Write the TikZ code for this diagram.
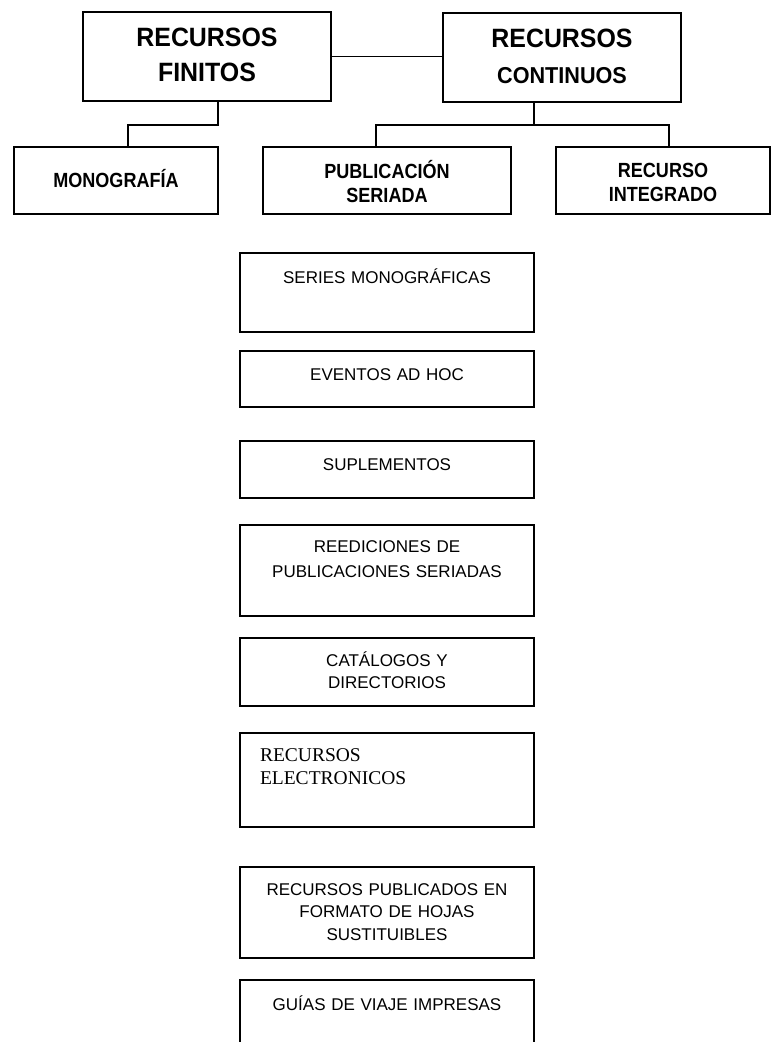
\documentclass[tikz,border=0pt]{standalone}
\usepackage{fontspec}
\setmainfont{Liberation Sans}
\newfontfamily\titlefont[FakeStretch=0.94]{Liberation Sans}
\newfontfamily\headfont[FakeStretch=0.88]{Liberation Sans}
\newfontfamily\notefont{Liberation Serif}
\usetikzlibrary{positioning}

\begin{document}
\begin{tikzpicture}[
    x=1pt, y=-1pt,
    box/.style={draw, line width=1.7pt, inner sep=0pt, outer sep=0pt, align=center},
    title/.style={box, font=\titlefont\bfseries\fontsize{26.5}{35}\selectfont},
    head/.style={box, text height=30pt, text depth=37pt, font=\headfont\bfseries\fontsize{20.5}{24.5}\selectfont},
    kind/.style={box, text width=294pt, font=\fontsize{17}{22.5}\selectfont},
    link/.style={line width=1.6pt},
]
\useasboundingbox (0,0) rectangle (771,1042);

% Top level: finite and continuing resources
\node[title, anchor=north west, text width=248pt, text height=34pt, text depth=55pt] (fin) at (83,12) {RECURSOS\\FINITOS};
\node[title, anchor=north west, text width=238pt, text height=34pt, text depth=55pt, font=\titlefont\bfseries\fontsize{26.5}{36}\selectfont] (con) at (443,13) {RECURSOS\\{\fontsize{23}{36}\selectfont CONTINUOS}};

% Second level
\node[head, anchor=north west, text width=204pt, text height=40pt, text depth=27pt] (mono) at (14,147) {MONOGRAFÍA};
\node[head, anchor=north west, text width=248pt, text height=31pt, text depth=36pt] (pub) at (263,147) {PUBLICACIÓN\\SERIADA};
\node[head, anchor=north west, text width=214pt] (int) at (556,147) {RECURSO\\INTEGRADO};

% Column of kinds of continuing resources
\node[kind, anchor=north west, text height=30pt, text depth=49pt] (ser) at (240,253) {SERIES MONOGRÁFICAS};
\node[kind, below=19pt of ser, text height=29pt, text depth=27pt] (eve) {EVENTOS AD HOC};
\node[kind, below=34pt of eve, text height=29pt, text depth=28pt] (sup) {SUPLEMENTOS};
\node[kind, below=27pt of sup, text height=27pt, text depth=64pt, font=\fontsize{17}{25}\selectfont] (ree) {REEDICIONES DE\\PUBLICACIONES SERIADAS};
\node[kind, below=22pt of ree, text height=28pt, text depth=40pt, font=\fontsize{17}{22}\selectfont] (cat) {CATÁLOGOS Y\\DIRECTORIOS};
\node[kind, below=27pt of cat, align=left, inner xsep=20pt, text width=254pt, text height=28pt, text depth=66pt, font=\notefont\fontsize{19.5}{23}\selectfont] (ele) {RECURSOS\\ELECTRONICOS};
\node[kind, below=40pt of ele, text height=28pt, text depth=63pt] (hoj) {RECURSOS PUBLICADOS EN\\FORMATO DE HOJAS\\SUSTITUIBLES};
\node[kind, below=22pt of hoj, text height=30pt, text depth=80pt] (gui) {GUÍAS DE VIAJE IMPRESAS};

% Connectors
\coordinate (fin-hub) at (218,125);
\coordinate (con-hub) at (534,125);
\coordinate (mono-in) at (128,147);
\coordinate (pub-in) at (376,147);
\coordinate (int-in) at (669,147);

\draw[link] (fin.east) -- (fin.east -| con.west);
\draw[link] (fin.south -| fin-hub) -- (fin-hub) -| (mono-in);
\draw[link] (con.south -| con-hub) -- (con-hub);
\draw[link] (pub-in) |- (con-hub) -| (int-in);

\end{tikzpicture}
\end{document}
